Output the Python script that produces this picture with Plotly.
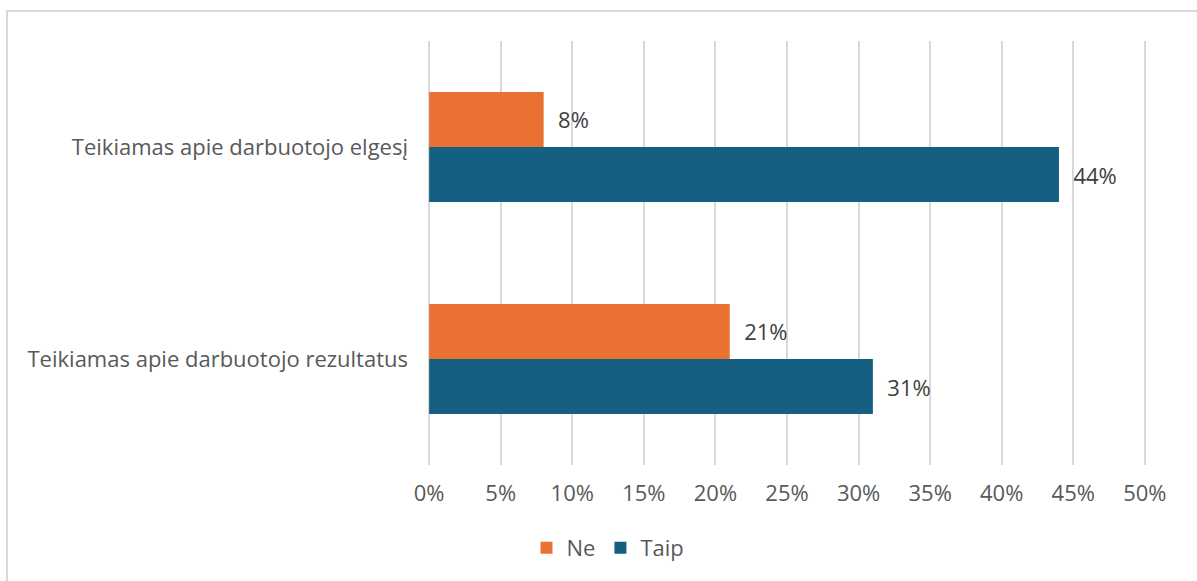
import plotly.graph_objects as go

categories = ["Teikiamas apie darbuotojo elgesį", "Teikiamas apie darbuotojo rezultatus"]
ne_values = [8, 21]
taip_values = [44, 31]
tick_values = [0, 5, 10, 15, 20, 25, 30, 35, 40, 45, 50]
tick_labels = [f"{v}%" for v in tick_values]

FONT = "Open Sans, Liberation Sans, Arial, sans-serif"
GAP = "\u00a0\u00a0"  # breathing room between bar end and its value label


def bar_labels(values):
    return [f"{GAP}{v}%" for v in values]


fig = go.Figure()
fig.add_trace(go.Bar(
    name="Ne", y=categories, x=ne_values, orientation="h",
    marker=dict(color="#E97132", line=dict(width=0)),
    text=bar_labels(ne_values), textposition="outside",
    textfont=dict(family=FONT, size=22, color="#404040"),
    cliponaxis=False,
))
fig.add_trace(go.Bar(
    name="Taip", y=categories, x=taip_values, orientation="h",
    marker=dict(color="#156082", line=dict(width=0)),
    text=bar_labels(taip_values), textposition="outside",
    textfont=dict(family=FONT, size=22, color="#404040"),
    cliponaxis=False,
))

# outer chart frame
fig.add_shape(type="rect", xref="paper", yref="paper",
              x0=-420 / 720, x1=1.2, y0=-0.5, y1=1 + 30 / 424,
              line=dict(color="#d9d9d9", width=2), fillcolor="rgba(0,0,0,0)",
              layer="below")

fig.update_layout(
    width=1197, height=581,
    margin=dict(l=427, r=50, t=41, b=116),
    paper_bgcolor="white", plot_bgcolor="white",
    barmode="group", bargap=0.48, bargroupgap=0,
    font=dict(family=FONT, size=22, color="#595959"),
    # small padding on both ends keeps the 0% and 50% gridlines drawn
    xaxis=dict(range=[-0.15, 50.15], tickvals=tick_values, ticktext=tick_labels,
               showgrid=True, gridcolor="#d9d9d9", gridwidth=1.5,
               zeroline=False, showline=False, ticks="",
               ticklabelstandoff=13,
               tickfont=dict(family=FONT, size=22, color="#595959")),
    yaxis=dict(autorange="reversed", showgrid=False, zeroline=False,
               showline=False, ticks="", ticklabelstandoff=18,
               tickfont=dict(family=FONT, size=22, color="#595959")),
    legend=dict(orientation="h", xref="container", yref="container",
                x=608 / 1197, xanchor="center", y=33 / 581, yanchor="middle",
                font=dict(family=FONT, size=22, color="#595959"),
                itemwidth=30, traceorder="normal"),
    showlegend=True,
)

fig.write_html("out.html")
